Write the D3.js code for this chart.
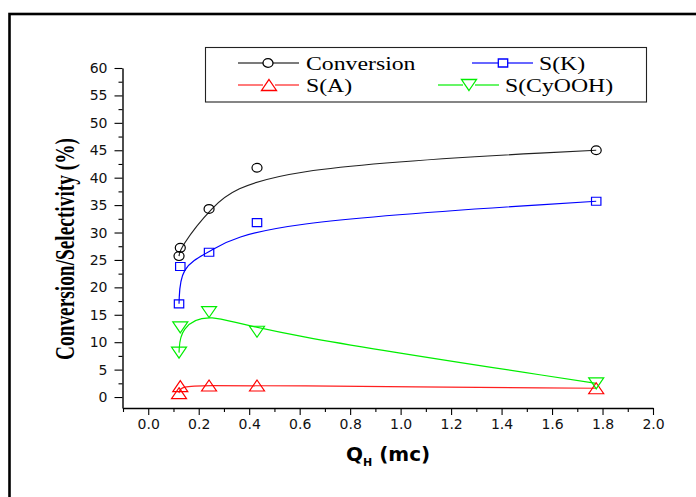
<!DOCTYPE html>
<html><head><meta charset="utf-8">
<script src="https://cdn.jsdelivr.net/npm/d3@7/dist/d3.min.js"></script>
<style>body{margin:0;background:#fff}svg{display:block}</style>
</head><body>
<svg id="chart" width="696" height="497"></svg>
<script>
// ---- data ----
const qh = [0.122, 0.127, 0.241, 0.431, 1.775];
const conversion = [25.7, 27.2, 34.3, 41.8, 45.0];
const sK = [17.0, 23.8, 26.4, 31.8, 35.7];
const sA = [0.7, 2.0, 2.1, 2.1, 1.6];
const sCyOOH = [8.1, 12.7, 15.5, 11.9, 2.5];
const seriesNames = ["Conversion", "S(K)", "S(A)", "S(CyOOH)"];
const xTickValues = [0.0, 0.2, 0.4, 0.6, 0.8, 1.0, 1.2, 1.4, 1.6, 1.8, 2.0];
const xMinorValues = [-0.1, 0.1, 0.3, 0.5, 0.7, 0.9, 1.1, 1.3, 1.5, 1.7, 1.9];
const yTickValues = [0, 5, 10, 15, 20, 25, 30, 35, 40, 45, 50, 55, 60];
const yMinorValues = [2.5, 7.5, 12.5, 17.5, 22.5, 27.5, 32.5, 37.5, 42.5, 47.5, 52.5, 57.5];

const svg = d3.select("#chart");
svg.append("rect").attr("width", 696).attr("height", 497).attr("fill", "#fff");
// outer frame
svg.append("rect").attr("x", 9.5).attr("y", 14).attr("width", 720).attr("height", 520)
  .attr("fill", "none").attr("stroke", "#000").attr("stroke-width", 2.6);

const x = d3.scaleLinear().domain([-0.1, 2.0]).range([123, 653]);
const y = d3.scaleLinear().domain([-2, 60]).range([408, 68]);

// axes
const gx = svg.append("g").attr("transform", "translate(0,408)");
gx.call(d3.axisBottom(x).tickValues(xTickValues).tickSize(7).tickSizeOuter(0).tickPadding(4)
  .tickFormat(d3.format(".1f")));
const gxm = svg.append("g").attr("transform", "translate(0,408)");
gxm.call(d3.axisBottom(x).tickValues(xMinorValues).tickSize(4).tickSizeOuter(0).tickFormat(""));
gxm.select(".domain").remove();

const gy = svg.append("g").attr("transform", "translate(122.5,0)");
gy.call(d3.axisLeft(y).tickValues(yTickValues).tickSize(8).tickSizeOuter(0).tickPadding(7)
  .tickFormat(d3.format("d")));
const gym = svg.append("g").attr("transform", "translate(122.5,0)");
gym.call(d3.axisLeft(y).tickValues(yMinorValues).tickSize(4).tickSizeOuter(0).tickFormat(""));
gym.select(".domain").remove();

svg.selectAll(".domain").attr("stroke", "#000").attr("stroke-width", 1.4);
svg.selectAll(".tick line").attr("stroke", "#000").attr("stroke-width", 1.1);
svg.selectAll(".tick text").attr("font-family", "'DejaVu Sans', sans-serif").attr("font-size", 14)
  .attr("fill", "#111");

// axis titles
const xl = svg.append("text").attr("x", 346).attr("y", 461)
  .attr("font-family", "'DejaVu Sans', sans-serif").attr("font-weight", "bold").attr("font-size", 20)
  .attr("fill", "#000");
xl.append("tspan").text("Q");
xl.append("tspan").attr("font-size", 11).attr("dy", 5).text("H");
xl.append("tspan").attr("dy", -5).text(" (mc)");

svg.append("text").attr("transform", "translate(74,249) rotate(-90)")
  .attr("text-anchor", "middle")
  .attr("font-family", "'Liberation Serif', 'Times New Roman', serif").attr("font-weight", "bold")
  .attr("font-size", 27).attr("textLength", 222).attr("lengthAdjust", "spacingAndGlyphs")
  .attr("fill", "#000")
  .text("Conversion/Selectivity (%)");

// marker paths
function markerPath(kind) {
  if (kind === "circle") {
    return "M-5,0 A5,4.4 0 1,0 5,0 A5,4.4 0 1,0 -5,0 Z";
  } else if (kind === "square") {
    return "M-4.7,-4 H4.7 V4 H-4.7 Z";
  } else if (kind === "up") {
    return "M0,-5.5 L7.5,5.5 L-7.5,5.5 Z";
  } else {
    return "M0,5.5 L7.5,-5.5 L-7.5,-5.5 Z";
  }
}

const series = [
  {name: seriesNames[0], vals: conversion, color: "#000000", line: "#222222", marker: "circle"},
  {name: seriesNames[1], vals: sK, color: "#0000ff", line: "#0000ff", marker: "square"},
  {name: seriesNames[2], vals: sA, color: "#ff0000", line: "#ff2020", marker: "up"},
  {name: seriesNames[3], vals: sCyOOH, color: "#00ee00", line: "#00ee00", marker: "down"}
];

const lineGen = d3.line().x(d => x(d[0])).y(d => y(d[1])).curve(d3.curveBasis);

series.forEach(s => {
  const pts = qh.map((q, i) => [q, s.vals[i]]).sort((a, b) => a[0] - b[0]);
  svg.append("path").attr("d", lineGen(pts)).attr("fill", "none")
    .attr("stroke", s.line).attr("stroke-width", 1.2);
});
series.forEach(s => {
  svg.append("g").selectAll("path").data(qh.map((q, i) => [q, s.vals[i]])).join("path")
    .attr("transform", d => `translate(${x(d[0])},${y(d[1])})`)
    .attr("d", markerPath(s.marker))
    .attr("fill", "none").attr("stroke", s.color).attr("stroke-width", 1.2);
});

// legend
svg.append("rect").attr("x", 205.5).attr("y", 47.5).attr("width", 441).attr("height", 54.5)
  .attr("fill", "#fff").attr("stroke", "#222").attr("stroke-width", 1.1);
const legendPos = [
  {x1: 238, x2: 299, mx: 268, y: 63, tx: 306},
  {x1: 472, x2: 533, mx: 503, y: 63, tx: 539},
  {x1: 238, x2: 299, mx: 269, y: 85, tx: 306},
  {x1: 438, x2: 499, mx: 469, y: 85, tx: 505}
];
series.forEach((s, i) => {
  const p = legendPos[i];
  const g = svg.append("g");
  const half = s.marker === "circle" ? 5 : (s.marker === "square" ? 4.7 : 6);
  g.append("line").attr("x1", p.x1).attr("x2", p.mx - half).attr("y1", p.y).attr("y2", p.y)
    .attr("stroke", s.line).attr("stroke-width", 1.2);
  g.append("line").attr("x1", p.mx + half).attr("x2", p.x2).attr("y1", p.y).attr("y2", p.y)
    .attr("stroke", s.line).attr("stroke-width", 1.2);
  g.append("path").attr("transform", `translate(${p.mx},${p.y})`).attr("d", markerPath(s.marker))
    .attr("fill", "none").attr("stroke", s.color).attr("stroke-width", 1.3);
  g.append("text").attr("transform", `translate(${p.tx},${p.y + 6.5}) scale(1.25,1)`)
    .attr("font-family", "'Liberation Serif', 'Times New Roman', serif").attr("font-size", 19)
    .attr("fill", "#000").text(s.name);
});
</script>
</body></html>
